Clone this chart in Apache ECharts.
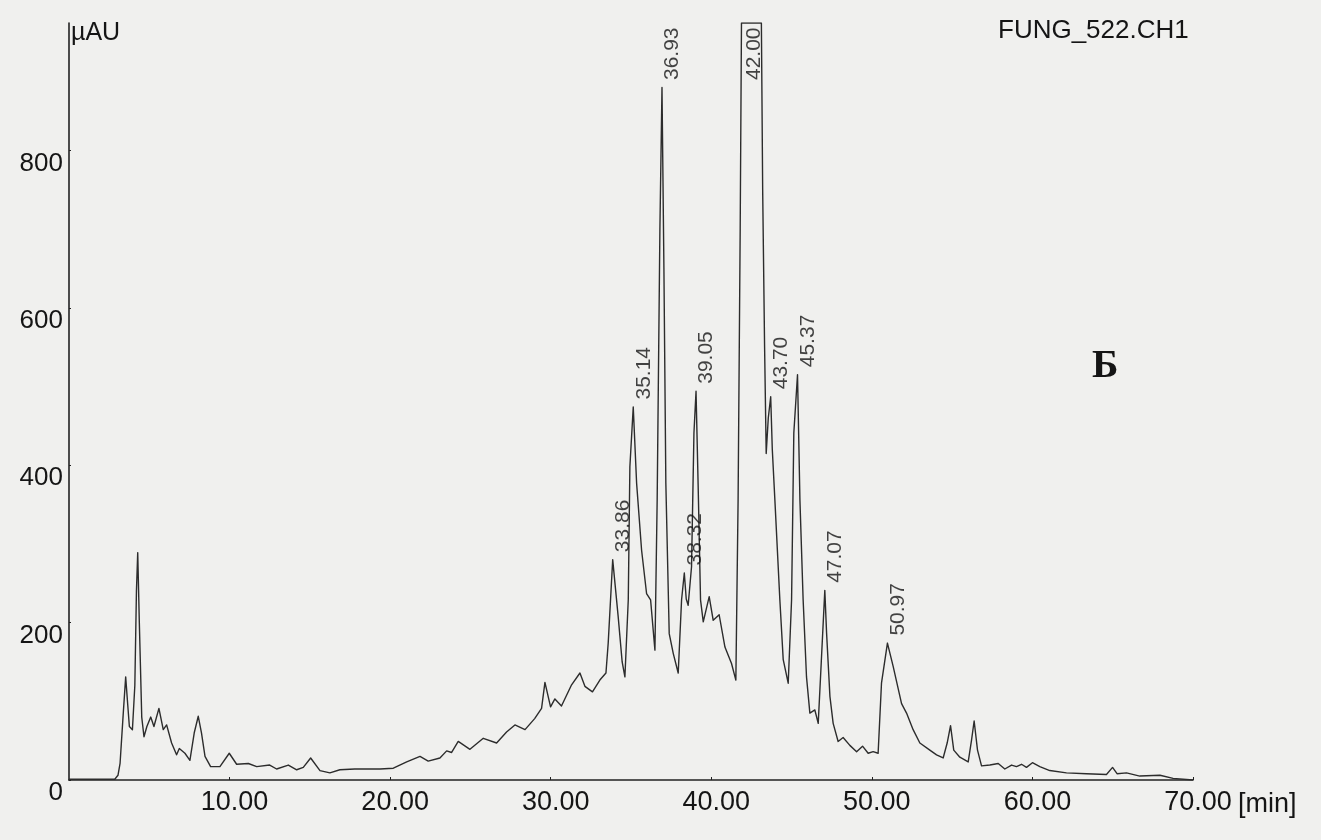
<!DOCTYPE html>
<html>
<head>
<meta charset="utf-8">
<script src="https://cdn.jsdelivr.net/npm/echarts@6.0.0/dist/echarts.min.js"></script>
<style>
html,body{margin:0;padding:0;background:#f0f0ee;}
#chart{width:1321px;height:840px;}
</style>
</head>
<body>
<div id="chart"></div>
<script>
// Retention time (min)
var times = [
  0.00, 2.85, 3.05, 3.18, 3.38, 3.53, 3.66, 3.76, 3.95, 4.10, 4.20, 4.28, 4.38, 4.53, 4.67, 4.85,
  5.09, 5.29, 5.60, 5.87, 6.08, 6.39, 6.70, 6.87, 7.22, 7.53, 7.80, 8.05, 8.25, 8.47, 8.82, 9.40,
  9.98, 10.44, 11.17, 11.69, 12.50, 12.93, 13.66, 14.18, 14.59, 15.05, 15.63, 16.25, 16.87, 17.80,
  18.80, 19.37, 20.20, 21.03, 21.86, 22.37, 23.10, 23.52, 23.83, 24.24, 24.97, 25.80, 26.63, 27.25,
  27.77, 28.40, 29.00, 29.43, 29.64, 29.99, 30.26, 30.67, 31.30, 31.82, 32.13, 32.60, 33.06, 33.44,
  33.58, 33.86, 34.20, 34.45, 34.62, 34.83, 34.93, 35.14, 35.35, 35.66, 35.97, 36.22, 36.49, 36.63,
  36.80, 36.93, 37.05, 37.17, 37.38, 37.63, 37.94, 38.15, 38.32, 38.44, 38.56, 38.77, 38.92, 39.05,
  39.18, 39.33, 39.50, 39.87, 40.12, 40.49, 40.85, 41.26, 41.53, 41.67, 41.80, 41.88, 43.12, 43.20,
  43.32, 43.42, 43.55, 43.70, 43.80, 43.96, 44.27, 44.48, 44.79, 45.00, 45.14, 45.37, 45.52, 45.72,
  45.93, 46.14, 46.45, 46.66, 46.85, 47.07, 47.18, 47.39, 47.59, 47.90, 48.21, 48.63, 49.05, 49.42,
  49.77, 50.08, 50.39, 50.60, 50.97, 51.33, 51.85, 52.16, 52.57, 52.99, 53.61, 54.03, 54.44, 54.69,
  54.90, 55.10, 55.48, 56.00, 56.21, 56.37, 56.58, 56.83, 57.35, 57.87, 58.28, 58.70, 59.01, 59.32,
  59.63, 60.00, 60.46, 61.08, 62.12, 63.36, 64.61, 64.99, 65.27, 65.86, 66.69, 67.94, 68.76, 70.00
];
// Detector signal (µAU); the 42.00 peak is off scale and shown clipped at the top of the plot
var signal = [
  1, 1, 6, 21, 85, 131, 95, 68, 64, 120, 240, 289, 200, 80, 55, 68,
  80, 68, 91, 64, 70, 47, 32, 40, 34, 25, 60, 81, 60, 30, 17, 17,
  34, 20, 21, 17, 19, 14, 19, 13, 16, 28, 12, 9, 13, 14,
  14, 14, 15, 23, 30, 24, 28, 37, 35, 49, 39, 53, 47, 61,
  70, 64, 78, 91, 124, 93, 103, 94, 121, 136, 119, 112, 127, 136,
  174, 280, 208, 150, 131, 229, 398, 474, 377, 292, 237, 229, 165, 356,
  700, 880, 650, 377, 186, 161, 136, 229, 263, 230, 222, 271, 441, 494,
  376, 229, 201, 233, 203, 210, 169, 148, 127, 356, 700, 962, 962, 750,
  550, 415, 460, 487, 420, 356, 229, 153, 123, 229, 441, 515, 356, 229,
  131, 85, 89, 72, 150, 241, 187, 106, 72, 49, 54, 44, 36, 43,
  34, 36, 34, 123, 174, 144, 97, 85, 64, 47, 38, 32, 28, 47,
  69, 38, 29, 23, 51, 75, 38, 18, 19, 21, 14, 19, 17, 20,
  16, 22, 17, 12, 9, 8, 7, 16, 8, 9, 5, 6, 2, 0
];
// Labelled peaks
var peakLabels = ['33.86', '35.14', '36.93', '38.32', '39.05', '42.00', '43.70', '45.37', '47.07', '50.97'];
var peakTimes = [33.86, 35.14, 36.93, 38.32, 39.05, 42.00, 43.70, 45.37, 47.07, 50.97];
var peakHeights = [280, 474, 880, 263, 494, 962, 487, 515, 241, 174];

var xTicks = [10, 20, 30, 40, 50, 60, 70];
var yTicks = [0, 200, 400, 600, 800];
var Y_MAX = 962;

var lineData = times.map(function (t, i) { return [t, signal[i]]; });
var peakData = peakLabels.map(function (lab, i) {
  var item = { value: [peakTimes[i], peakHeights[i], lab] };
  if (lab === '42.00') {
    item.label = { position: 'bottom', distance: 4, align: 'right', verticalAlign: 'top' };
  }
  return item;
});

var FONT = '"Liberation Sans", Arial, sans-serif';
var TXT = '#151515';

var chart = echarts.init(document.getElementById('chart'), null, { renderer: 'canvas' });
chart.setOption({
  backgroundColor: '#f0f0ee',
  animation: false,
  title: [
    { text: 'FUNG_522.CH1', left: 998, top: 18, padding: 0,
      textStyle: { fontFamily: FONT, fontSize: 26, fontWeight: 'normal', color: TXT } },
    { text: 'Б', left: 1092, top: 347, padding: 0,
      textStyle: { fontFamily: '"Liberation Serif", "DejaVu Serif", serif', fontSize: 40, fontWeight: 'bold', color: TXT } }
  ],
  grid: { left: 69, right: 128, top: 23, bottom: 60, containLabel: false, outerBoundsMode: 'none' },
  xAxis: {
    type: 'value', min: 0, max: 70, interval: 10,
    name: '[min]', nameLocation: 'end', nameGap: 45,
    nameTextStyle: { fontFamily: FONT, fontSize: 27, color: TXT, align: 'left', verticalAlign: 'top', padding: [11, 0, 0, 0] },
    axisLine: { show: true, onZero: false, lineStyle: { color: '#222', width: 1.6 } },
    axisTick: { show: true, inside: true, length: 3, lineStyle: { color: '#222' } },
    splitLine: { show: false },
    axisLabel: {
      fontFamily: FONT, fontSize: 27, color: TXT, margin: 9, padding: [0, 0, 0, 10],
      showMinLabel: false,
      formatter: function (v) { return xTicks.indexOf(v) >= 0 ? v.toFixed(2) : ''; }
    }
  },
  yAxis: {
    type: 'value', min: 0, max: Y_MAX, interval: 200,
    name: 'µAU', nameLocation: 'end', nameGap: 0,
    nameTextStyle: { fontFamily: FONT, fontSize: 25, color: TXT, align: 'left', verticalAlign: 'top', padding: [-2, 0, 0, 2] },
    axisLine: { show: true, lineStyle: { color: '#222', width: 1.6 } },
    axisTick: { show: true, inside: true, length: 2, lineStyle: { color: '#222' } },
    splitLine: { show: false },
    axisLabel: {
      fontFamily: FONT, fontSize: 26, color: TXT, margin: 6, verticalAlign: 'top',
      showMaxLabel: false,
      formatter: function (v) { return yTicks.indexOf(v) >= 0 ? String(v) : ''; }
    }
  },
  series: [
    {
      type: 'line', data: lineData, symbol: 'none', clip: true,
      smooth: false,
      lineStyle: { color: '#2c2c2c', width: 1.4, join: 'round' },
      emphasis: { disabled: true }, silent: true, z: 2
    },
    {
      type: 'scatter', data: peakData, symbol: 'circle', symbolSize: 1,
      itemStyle: { color: 'transparent' }, silent: true, z: 3, clip: false,
      encode: { x: 0, y: 1 },
      label: {
        show: true, position: 'top', distance: 7, rotate: 90,
        align: 'left', verticalAlign: 'top',
        fontFamily: FONT, fontSize: 21, color: TXT,
        formatter: function (p) { return p.value[2]; }
      }
    }
  ]
});
</script>
</body>
</html>
